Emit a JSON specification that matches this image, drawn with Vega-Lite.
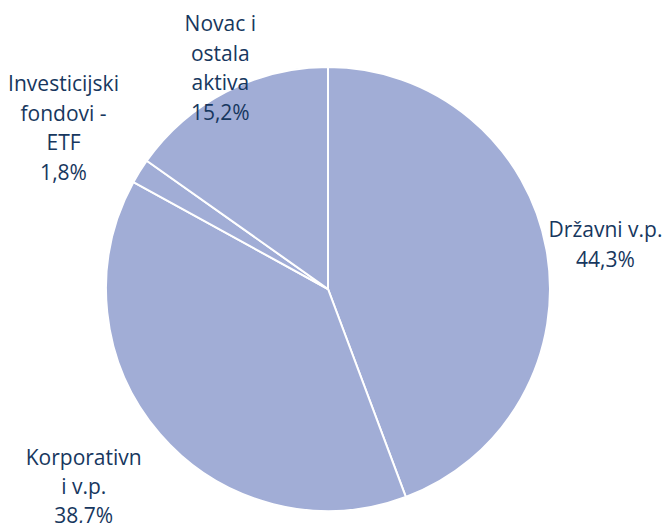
{
  "$schema": "https://vega.github.io/schema/vega-lite/v6.json",
  "width": 656,
  "height": 578,
  "autosize": "none",
  "padding": {"left": 0, "top": 0, "right": 9, "bottom": 0},
  "background": "white",
  "config": {"view": {"stroke": null}},
  "data": {"values": [
    {"k": 1, "cat": "Državni v.p.", "share": 44.3, "label": "Državni v.p.\n44,3%"},
    {"k": 2, "cat": "Korporativni v.p.", "share": 38.7, "label": "Korporativn\ni v.p.\n38,7%"},
    {"k": 3, "cat": "Investicijski fondovi - ETF", "share": 1.8, "label": "Investicijski\nfondovi -\nETF\n1,8%"},
    {"k": 4, "cat": "Novac i ostala aktiva", "share": 15.2, "label": "Novac i\nostala\naktiva\n15,2%"}
  ]},
  "encoding": {
    "theta": {"field": "share", "type": "quantitative", "stack": true},
    "order": {"field": "k", "type": "quantitative"}
  },
  "layer": [
    {"mark": {"type": "arc", "radius": 222, "fill": "#A1ADD6", "stroke": "white", "strokeWidth": 2}},
    {"mark": {"type": "text", "radius": 282, "dy": -8, "font": "Open Sans", "fontSize": 21, "lineHeight": 30, "lineBreak": "\n", "fill": "#17375E", "align": "center", "baseline": "middle"},
     "encoding": {"text": {"condition": {"test": "datum.k == 1", "field": "label"}, "value": ""}}},
    {"mark": {"type": "text", "radius": 323, "dy": -41, "font": "Open Sans", "fontSize": 21, "lineHeight": 29, "lineBreak": "\n", "fill": "#17375E", "align": "center", "baseline": "middle"},
     "encoding": {"text": {"condition": {"test": "datum.k == 2", "field": "label"}, "value": ""}}},
    {"mark": {"type": "text", "radius": 312, "dy": -38, "font": "Open Sans", "fontSize": 21, "lineHeight": 29.5, "lineBreak": "\n", "fill": "#17375E", "align": "center", "baseline": "middle"},
     "encoding": {"text": {"condition": {"test": "datum.k == 3", "field": "label"}, "value": ""}}},
    {"mark": {"type": "text", "radius": 243, "dx": 4, "dy": -48, "font": "Open Sans", "fontSize": 21, "lineHeight": 29.5, "lineBreak": "\n", "fill": "#17375E", "align": "center", "baseline": "middle"},
     "encoding": {"text": {"condition": {"test": "datum.k == 4", "field": "label"}, "value": ""}}}
  ]
}
